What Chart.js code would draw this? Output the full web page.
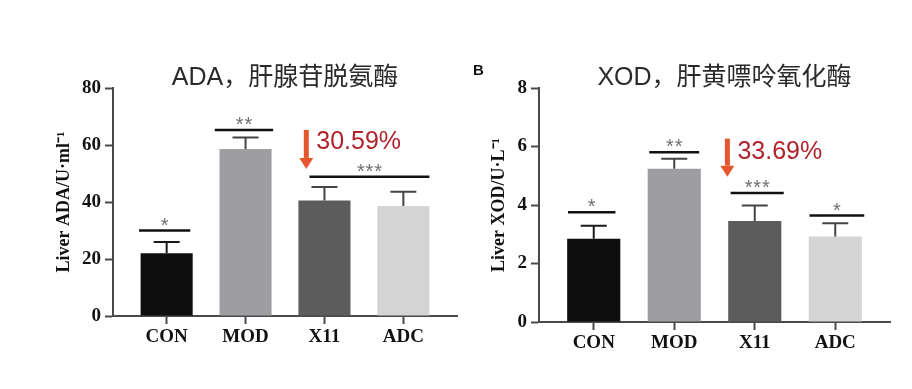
<!DOCTYPE html>
<html>
<head>
<meta charset="utf-8">
<script src="https://cdn.jsdelivr.net/npm/chart.js@4.4.1/dist/chart.umd.min.js"></script>
<style>
  html, body { margin: 0; padding: 0; background: #fff; overflow: hidden; }
  #wrap { position: relative; width: 912px; height: 389px; }
  .panel { position: absolute; top: 0; height: 389px; }
  #p1 { left: 0; width: 460px; }
  #p2 { left: 460px; width: 452px; }
</style>
</head>
<body>
<div id="wrap">
  <div class="panel" id="p1"><canvas id="adaChart"></canvas></div>
  <div class="panel" id="p2"><canvas id="xodChart"></canvas></div>
</div>
<script>
const categories = ["CON", "MOD", "X11", "ADC"];
const barColors = ["#0e0e0e", "#9e9ea2", "#5c5c5c", "#d4d4d4"];

// ADA (U/ml): mean and upper error
const adaMean = [22.0, 58.6, 40.5, 38.6];
const adaErr = [4.0, 4.0, 4.8, 5.0];
// significance lines: [from, to, y, stars]
const adaSig = [
  [-0.35, 0.3, 30, "*"],
  [0.61, 1.35, 65.3, "**"],
  [1.81, 3.33, 48.9, "***"],
];
const adaDrop = { x: 1.77, from: 65.3, to: 51.6, textY: 61, label: "30.59%" };

// XOD (U/L)
const xodMean = [2.85, 5.24, 3.45, 2.92];
const xodErr = [0.44, 0.34, 0.53, 0.46];
const xodSig = [
  [-0.32, 0.27, 3.75, "*"],
  [0.69, 1.31, 5.8, "**"],
  [1.7, 2.36, 4.41, "***"],
  [2.68, 3.36, 3.64, "*"],
];
const xodDrop = { x: 1.66, from: 6.27, to: 4.97, textY: 5.82, label: "33.69%" };

const serif = '"Liberation Serif", "Times New Roman", serif';
const axisColor = "#4a4a4a";

const annotate = {
  id: "annotate",
  afterDatasetsDraw(chart, args, o) {
    const { ctx, chartArea, scales: { x, y } } = chart;
    ctx.save();

    // error bars (upper only)
    o.mean.forEach((m, i) => {
      const px = x.getPixelForValue(i);
      const y0 = y.getPixelForValue(m);
      const y1 = y.getPixelForValue(m + o.err[i]);
      ctx.strokeStyle = i === 0 ? "#1a1a1a" : "#444";
      ctx.lineWidth = 2;
      ctx.beginPath();
      ctx.moveTo(px, y0);
      ctx.lineTo(px, y1);
      ctx.moveTo(px - 13, y1);
      ctx.lineTo(px + 13, y1);
      ctx.stroke();
    });

    // significance lines + stars
    o.sig.forEach(([a, b, v, stars]) => {
      const x0 = x.getPixelForValue(a);
      const x1 = x.getPixelForValue(b);
      const py = y.getPixelForValue(v);
      ctx.strokeStyle = "#111";
      ctx.lineWidth = 2.5;
      ctx.beginPath();
      ctx.moveTo(x0, py);
      ctx.lineTo(x1, py);
      ctx.stroke();
      ctx.fillStyle = "#707070";
      ctx.font = '20px "Liberation Sans", Arial, sans-serif';
      ctx.textAlign = "center";
      ctx.textBaseline = "alphabetic";
      const mid = (x0 + x1) / 2;
      for (let k = 0; k < stars.length; k++) {
        ctx.fillText("*", mid + (k - (stars.length - 1) / 2) * 8.6, py + 1);
      }
    });

    // reduction arrow + percentage
    const d = o.drop;
    const ax = x.getPixelForValue(d.x);
    const top = y.getPixelForValue(d.from);
    const tip = y.getPixelForValue(d.to);
    ctx.fillStyle = "#e4572e";
    ctx.fillRect(ax - 2.5, top, 5, tip - top - 11);
    ctx.beginPath();
    ctx.moveTo(ax - 7, tip - 11);
    ctx.lineTo(ax + 7, tip - 11);
    ctx.lineTo(ax, tip);
    ctx.closePath();
    ctx.fill();
    ctx.fillStyle = "#b0232b";
    ctx.font = '25px "Liberation Sans", Arial, sans-serif';
    ctx.textAlign = "left";
    ctx.textBaseline = "middle";
    ctx.fillText(d.label, ax + 10, y.getPixelForValue(d.textY));

    // panel title
    ctx.fillStyle = "#2a2a2a";
    ctx.font = '25px "Liberation Sans", "Noto Sans CJK SC", sans-serif';
    ctx.textAlign = "center";
    ctx.fillText(o.title, (chartArea.left + chartArea.right) / 2 + o.titleShift, chartArea.top - 10);

    if (o.tag) {
      ctx.fillStyle = "#111";
      ctx.font = 'bold 15px "Liberation Sans", Arial, sans-serif';
      ctx.textAlign = "left";
      ctx.fillText(o.tag, 13, 71);
    }
    ctx.restore();
  },
};

function makeChart(id, cfg) {
  const ctx = document.getElementById(id).getContext("2d");
  return new Chart(ctx, {
    type: "bar",
    data: {
      datasets: [{
        data: cfg.mean.map((v, i) => ({ x: i, y: v })),
        backgroundColor: barColors,
        borderWidth: 0,
        barPercentage: 0.66,
        categoryPercentage: 1,
      }],
    },
    plugins: [annotate],
    options: {
      responsive: true,
      maintainAspectRatio: false,
      animation: false,
      layout: { padding: cfg.padding },
      plugins: {
        legend: { display: false },
        tooltip: { enabled: false },
        annotate: cfg,
      },
      scales: {
        x: {
          type: "linear",
          min: -0.68,
          max: 3.68,
          offset: false,
          afterBuildTicks: (s) => { s.ticks = categories.map((c, i) => ({ value: i })); },
          afterFit: (s) => { s.height = 50; },
          ticks: {
            callback: (v, i) => categories[i],
            color: "#111",
            padding: 2,
            font: { family: serif, size: 19, weight: "bold" },
          },
          grid: {
            offset: false,
            drawOnChartArea: false,
            drawTicks: true,
            tickLength: 8,
            tickWidth: 2,
            tickColor: axisColor,
          },
          border: { color: axisColor, width: 2 },
        },
        y: {
          min: 0,
          max: cfg.max,
          afterFit: (s) => { s.width = cfg.yWidth; },
          ticks: {
            stepSize: cfg.step,
            color: "#111",
            padding: 4,
            font: { family: serif, size: 19, weight: "bold" },
          },
          grid: {
            drawOnChartArea: false,
            drawTicks: true,
            tickLength: 8,
            tickWidth: 2,
            tickColor: axisColor,
          },
          border: { color: axisColor, width: 2 },
          title: {
            display: true,
            text: cfg.yTitle,
            color: "#111",
            padding: { top: cfg.titlePad, bottom: 0 },
            font: { family: serif, size: 18, weight: "bold" },
          },
        },
      },
    },
  });
}

makeChart("adaChart", {
  mean: adaMean, err: adaErr, sig: adaSig, drop: adaDrop,
  max: 80, step: 20, yWidth: 113, titlePad: 54,
  yTitle: "Liver ADA/U\u00B7ml\u207B\u00B9",
  title: "ADA\uFF0C肝腺苷脱氨酶", titleShift: 0,
  padding: { left: 0, right: 3, top: 88, bottom: 23 },
});

makeChart("xodChart", {
  mean: xodMean, err: xodErr, sig: xodSig, drop: xodDrop,
  max: 8, step: 2, yWidth: 79, titlePad: 29,
  yTitle: "Liver XOD/U\u00B7L\u207B\u00B9",
  title: "XOD\uFF0C肝黄嘌呤氧化酶", titleShift: 10, tag: "B",
  padding: { left: 0, right: 22, top: 88, bottom: 17 },
});
</script>
</body>
</html>
